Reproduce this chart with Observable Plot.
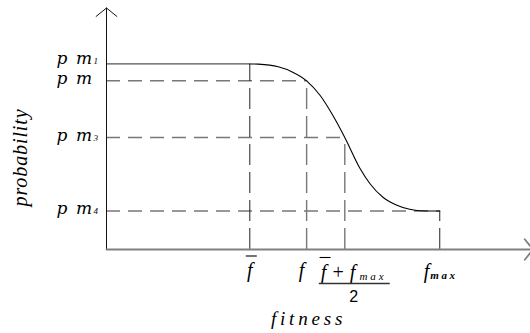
<!DOCTYPE html>
<html>
<head>
<meta charset="utf-8">
<script src="https://cdn.jsdelivr.net/npm/d3@7"></script>
<script src="https://cdn.jsdelivr.net/npm/@observablehq/plot@0.6"></script>
<style>
  body { margin: 0; background: #fff; }
  #chart svg { display: block; background: #fff; }
  g[aria-description="level names"] text { letter-spacing: 1.5px; }
  g[aria-description="probability title"] text { letter-spacing: 0.9px; }
  g[aria-description="fitness title"] text { letter-spacing: 3.8px; }
</style>
</head>
<body>
<div id="chart"></div>
<script>
// Fitness values marked on the horizontal axis: f̄, f, (f̄ + fmax)/2, fmax
const fitnessTicks = [3.38, 4.72, 5.62, 7.86];
// Mutation probability levels pm1, pm, pm3, pm4
const probabilityLevels = [0.77, 0.70, 0.465, 0.16];
const levelNames = ["p m", "p m", "p m", "p m"];
const levelSubscripts = ["1", "", "3", "4"];

// Adaptive mutation probability between f̄ and fmax
const curveFitness = [3.38, 3.58, 4.05, 4.38, 4.72, 5.04, 5.34, 5.62, 5.98, 6.21, 6.52, 6.85, 7.15, 7.39, 7.86];
const curveProbability = [0.77, 0.769, 0.758, 0.737, 0.70, 0.639, 0.556, 0.465, 0.336, 0.274, 0.217, 0.184, 0.167, 0.161, 0.16];

const [fAvg, fCur, fMid, fMax] = fitnessTicks;

const levels = probabilityLevels.map((p, i) => ({
  p, x: fitnessTicks[i], name: levelNames[i], sub: levelSubscripts[i]
}));
const curve = curveFitness.map((x, i) => ({x, y: curveProbability[i]}));

const serif = "Liberation Serif";
const dash = "#777";

// level label marks (name + subscript); the top row sits slightly higher
const levelLabels = (rows, dy) => [
  Plot.text(rows, {x: 0, y: "p", text: "name", textAnchor: "end", lineAnchor: "bottom", dx: -13, dy,
    fontFamily: "DejaVu Serif", fontStyle: "italic", fontSize: 17, fill: "#000", ariaDescription: "level names"}),
  Plot.text(rows, {x: 0, y: "p", text: "sub", textAnchor: "start", lineAnchor: "bottom", dx: -13, dy,
    fontFamily: serif, fontStyle: "italic", fontSize: 9, fill: "#000", ariaDescription: "level subscripts"})
];

const svg = Plot.plot({
  width: 530,
  height: 333,
  marginLeft: 106,
  marginRight: 0,
  marginTop: 8,
  marginBottom: 84,
  x: {domain: [0, 10], axis: null},
  y: {domain: [0, 1], axis: null},
  marks: [
    // guide lines from the axes to the curve
    Plot.ruleY(levels.slice(0, 1), {y: "p", x1: 0, x2: "x", stroke: "#555", strokeWidth: 1.3}),
    Plot.ruleY(levels.slice(1), {y: "p", x1: 0, x2: "x", stroke: dash, strokeWidth: 1.4, strokeDasharray: "14,8"}),
    Plot.ruleX([levels[0], levels[3]], {x: "x", y1: 0, y2: "p", stroke: "#222", strokeWidth: 1, strokeDasharray: "21,7"}),
    Plot.ruleX([levels[1], levels[2]], {x: "x", y1: 0, y2: "p", stroke: dash, strokeWidth: 1.4, strokeDasharray: "21,7"}),

    // probability curve
    Plot.line(curve, {x: "x", y: "y", curve: "monotone-x", stroke: "#000", strokeWidth: 1.1}),

    // axes with open arrowheads
    Plot.arrow([0], {x1: 0, y1: 0, x2: 0, y2: 1.002, stroke: "#111", strokeWidth: 1, headAngle: 102, headLength: 20}),
    Plot.arrow([0], {x1: 0, y1: 0, x2: 10.06, y2: 0, stroke: "#808080", strokeWidth: 1.8, headAngle: 102, headLength: 11}),

    // probability level labels
    ...levelLabels(levels.slice(0, 1), 0),
    ...levelLabels(levels.slice(1), 3.5),

    // fitness tick labels
    Plot.text([fAvg], {x: d => d, y: 0, text: () => "f", lineAnchor: "bottom", dy: 27.5,
      fontFamily: serif, fontStyle: "italic", fontSize: 20, fill: "#000", ariaDescription: "fbar label"}),
    Plot.text([fCur], {x: d => d, y: 0, text: () => "f", lineAnchor: "bottom", dx: -5, dy: 27.5,
      fontFamily: serif, fontStyle: "italic", fontSize: 20, fill: "#000", ariaDescription: "f label"}),
    Plot.text([fMid], {x: d => d, y: 0, text: () => "f + fmax", textAnchor: "start", lineAnchor: "bottom", dx: -24, dy: 29,
      fontFamily: serif, fontStyle: "italic", fontSize: 20, fill: "#000", ariaDescription: "mid numerator"}),
    Plot.text([fMid], {x: d => d, y: 0, text: () => "2", lineAnchor: "bottom", dx: 9, dy: 52,
      fontFamily: "Liberation Sans", fontSize: 16, fill: "#000", ariaDescription: "mid denominator"}),
    Plot.text([fMax], {x: d => d, y: 0, text: () => "fmax", textAnchor: "start", lineAnchor: "bottom", dx: -16, dy: 28,
      fontFamily: serif, fontStyle: "italic", fontSize: 20, fill: "#000", ariaDescription: "fmax label"}),

    // axis titles
    Plot.text(["probability"], {frameAnchor: "left", text: d => d, rotate: -90, textAnchor: "middle", lineAnchor: "middle",
      dx: -86, dy: 28.5, fontFamily: serif, fontStyle: "italic", fontSize: 20, fill: "#000", ariaDescription: "probability title"}),
    Plot.text(["fitness"], {frameAnchor: "bottom", text: d => d, textAnchor: "middle", lineAnchor: "middle",
      dx: -10, dy: 69, fontFamily: serif, fontStyle: "italic", fontSize: 19, fill: "#000", ariaDescription: "fitness title"})
  ]
});

document.getElementById("chart").append(svg);

const labelTexts = (name) => d3.select(svg).selectAll(`g[aria-description="${name}"] text`);

// Split a label into tspans (plain text, subscripts)
function compose(name, parts) {
  labelTexts(name).each(function () {
    const t = d3.select(this).text(null);
    for (const part of parts) {
      const s = t.append("tspan").text(part.text);
      for (const [k, v] of Object.entries(part.attrs || {})) s.attr(k, v);
    }
  });
}
compose("mid numerator", [
  {text: "f"},
  {text: " + f"},
  {text: "max", attrs: {"font-size": 11, dx: 4, dy: 1.5, "letter-spacing": 3}}
]);
compose("fmax label", [
  {text: "f"},
  {text: "max", attrs: {"font-size": 11, "font-weight": "bold", dx: 1, dy: 1.5, "letter-spacing": 2.5}}
]);

// Horizontal strokes that belong to a label (overline of the mean, fraction bar)
function stroke(textNode, x1, x2, y, width, color) {
  const line = document.createElementNS("http://www.w3.org/2000/svg", "line");
  line.setAttribute("x1", x1);
  line.setAttribute("x2", x2);
  line.setAttribute("y1", y);
  line.setAttribute("y2", y);
  line.setAttribute("stroke", color);
  line.setAttribute("stroke-width", width);
  const tr = textNode.getAttribute("transform");
  if (tr) line.setAttribute("transform", tr);
  textNode.parentNode.appendChild(line);
}
function overline(textNode, charIndex) {
  const start = textNode.getStartPositionOfChar(charIndex);
  const ext = textNode.getExtentOfChar(charIndex);
  const cx = ext.x + ext.width / 2 + 1.5;
  stroke(textNode, cx - 5.5, cx + 5.5, start.y - 21, 1.1, "#000");
}
labelTexts("fbar label").each(function () { overline(this, 0); });
labelTexts("mid numerator").each(function () {
  overline(this, 0);
  const box = this.getBBox();
  const base = this.getStartPositionOfChar(0).y;
  stroke(this, box.x - 2, box.x + box.width + 3, base + 5, 1.3, "#333");
});
</script>
</body>
</html>
